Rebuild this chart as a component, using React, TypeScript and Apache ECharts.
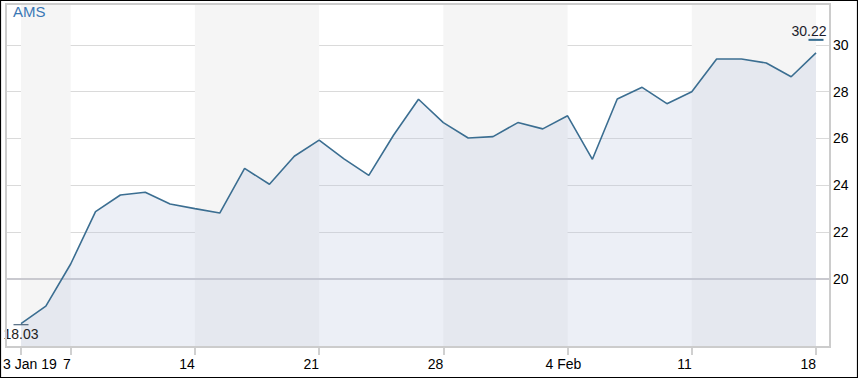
import React, { useEffect, useRef } from "react";
import * as echarts from "echarts";

// ---- data ----
const dates = [
  "2019-01-03", "2019-01-04",
  "2019-01-07", "2019-01-08", "2019-01-09", "2019-01-10", "2019-01-11",
  "2019-01-14", "2019-01-15", "2019-01-16", "2019-01-17", "2019-01-18",
  "2019-01-21", "2019-01-22", "2019-01-23", "2019-01-24", "2019-01-25",
  "2019-01-28", "2019-01-29", "2019-01-30", "2019-01-31", "2019-02-01",
  "2019-02-04", "2019-02-05", "2019-02-06", "2019-02-07", "2019-02-08",
  "2019-02-11", "2019-02-12", "2019-02-13", "2019-02-14", "2019-02-15",
  "2019-02-18",
];
const closes = [
  18.08, 18.83, 20.63, 22.87, 23.58, 23.7, 23.2, 23.0, 22.81, 24.72, 24.04,
  25.24, 25.93, 25.13, 24.42, 26.15, 27.68, 26.68, 26.02, 26.08, 26.68, 26.41,
  26.97, 25.11, 27.69, 28.19, 27.49, 28.0, 29.4, 29.4, 29.23, 28.64, 29.66,
];
const tickDates = [
  "2019-01-03", "2019-01-07", "2019-01-14", "2019-01-21",
  "2019-01-28", "2019-02-04", "2019-02-11", "2019-02-18",
];
const tickLabels = ["3 Jan 19", "7", "14", "21", "28", "4 Feb", "11", "18"];
const yTicks = [20, 22, 24, 26, 28, 30];
const startMark = 18.03;
const endMark = 30.22;
const title = "AMS";

// ---- layout ----
const W = 858;
const H = 378;
const plotLeft = 7;
const plotRight = 829;
const plotTop = 5;
const plotBottom = 346;
const firstX = 21;
const lastX = 816;
const yBasePx = 278.7; // pixel of the lowest labelled tick
const pxPerUnit = 23.37;
const yBase = yTicks[0];
const yMaxVal = yBase + (yBasePx - plotTop) / pxPerUnit;
const yMinVal = yBase - (plotBottom - yBasePx) / pxPerUnit;

const FONT = "'Liberation Sans', Arial, sans-serif";

export default function App() {
  const ref = useRef<HTMLDivElement>(null);

  useEffect(() => {
    if (!ref.current) return;
    const chart = echarts.init(ref.current, undefined, { renderer: "svg" });

    const isTick = (i: number) => tickDates.indexOf(dates[i]) >= 0;
    const catData = dates.map((d) => {
      if (d === tickDates[0]) {
        return { value: d, textStyle: { align: "left", padding: [0, 0, 0, -18] } };
      }
      if (d === tickDates[5]) {
        return { value: d, textStyle: { align: "left", padding: [0, 0, 0, -22] } };
      }
      return d;
    });

    chart.setOption({
      animation: false,
      textStyle: { fontFamily: FONT },
      title: {
        text: title,
        left: 13,
        top: 4,
        padding: 0,
        textStyle: { color: "#3a78b5", fontSize: 15, fontWeight: "normal", fontFamily: FONT },
      },
      grid: [
        { left: plotLeft, right: W - plotRight, top: plotTop, bottom: H - yBasePx },
        { left: firstX, right: W - lastX, top: plotTop, bottom: H - plotBottom },
      ],
      xAxis: [
        {
          gridIndex: 0,
          type: "value",
          min: 0,
          max: 1,
          axisLine: { show: true, lineStyle: { color: "#c9c9cf", width: 2 } },
          axisTick: { show: false },
          axisLabel: { show: false },
          splitLine: { show: false },
        },
        {
          gridIndex: 1,
          type: "category",
          data: catData,
          boundaryGap: false,
          axisLine: { show: false },
          axisTick: {
            show: true,
            interval: (i: number) => isTick(i),
            length: 9,
            lineStyle: { color: "#d0d0d0", width: 2 },
          },
          axisLabel: {
            interval: (i: number) => isTick(i),
            formatter: (v: string) => {
              const k = tickDates.indexOf(v);
              return k >= 0 ? tickLabels[k] : "";
            },
            align: "right",
            color: "#000",
            fontSize: 14,
            margin: 11,
            fontFamily: FONT,
          },
          splitLine: { show: false },
          splitArea: {
            show: true,
            interval: (i: number) => isTick(i),
            areaStyle: { color: ["#f5f5f5", "rgba(255,255,255,0)"] },
          },
        },
      ],
      yAxis: [
        {
          gridIndex: 0,
          type: "value",
          position: "right",
          min: yBase,
          max: yMaxVal,
          interval: 2,
          axisLine: { show: false },
          axisTick: { show: false },
          axisLabel: {
            margin: 4,
            color: "#000",
            fontSize: 14,
            fontFamily: FONT,
            showMaxLabel: false,
            formatter: (v: number) => (yTicks.indexOf(v) >= 0 ? String(v) : ""),
          },
          splitLine: {
            show: true,
            showMinLine: false,
            showMaxLine: false,
            lineStyle: { color: "#dadada", width: 1 },
          },
        },
        {
          gridIndex: 1,
          type: "value",
          min: yMinVal,
          max: yMaxVal,
          show: false,
          splitLine: { show: false },
        },
      ],
      series: [
        {
          type: "line",
          xAxisIndex: 1,
          yAxisIndex: 1,
          data: closes,
          showSymbol: false,
          symbol: "none",
          lineStyle: { color: "#3b6e91", width: 1.6 },
          areaStyle: { color: "rgba(185,197,222,0.4)" },
          z: 3,
          markPoint: {
            silent: true,
            symbol: "rect",
            data: [
              {
                coord: [dates[0], startMark],
                value: startMark,
                symbolSize: [15, 1],
                itemStyle: { color: "#2d4a66" },
                label: {
                  show: true,
                  position: "bottom",
                  distance: 2,
                  formatter: startMark.toFixed(2),
                  color: "#222",
                  fontSize: 14,
                  fontFamily: FONT,
                },
              },
              {
                coord: [dates[dates.length - 1], endMark],
                value: endMark,
                symbolSize: [15, 2],
                itemStyle: { color: "#336b8f" },
                label: {
                  show: true,
                  position: "top",
                  distance: 1,
                  offset: [-7, 0],
                  formatter: endMark.toFixed(2),
                  color: "#1c1c2c",
                  fontSize: 14,
                  fontFamily: FONT,
                },
              },
            ],
          },
        },
      ],
      graphic: [
        {
          type: "rect",
          silent: true,
          z: 50,
          shape: { x: 6, y: 4, width: 824, height: 343 },
          style: { fill: "none", stroke: "#cccccc", lineWidth: 2 },
        },
        {
          type: "rect",
          silent: true,
          z: 50,
          shape: { x: 0.5, y: 0.5, width: W - 1, height: H - 1 },
          style: { fill: "none", stroke: "#000", lineWidth: 1.2 },
        },
      ],
    });

    return () => chart.dispose();
  }, []);

  return (
    <div
      ref={ref}
      style={{ position: "absolute", left: 0, top: 0, width: W, height: H, background: "#fff" }}
    />
  );
}
